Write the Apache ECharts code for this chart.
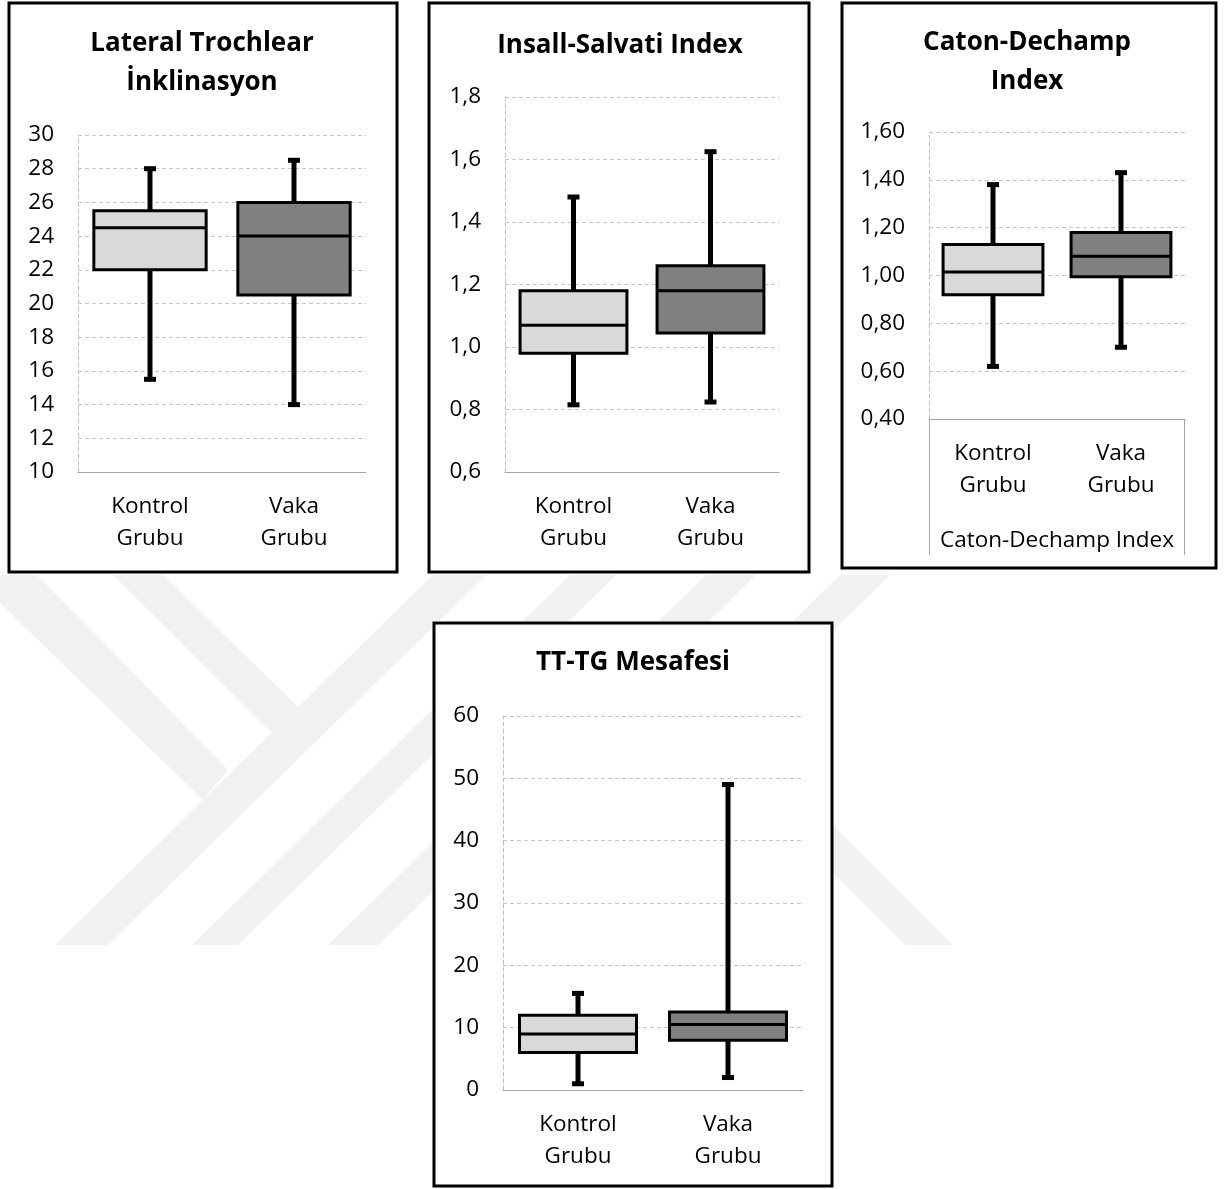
<!DOCTYPE html>
<html>
<head>
<meta charset="utf-8">
<script src="https://cdn.jsdelivr.net/npm/echarts@6/dist/echarts.min.js"></script>
<style>
  html, body { margin: 0; padding: 0; background: #fff; }
  #chart { width: 1231px; height: 1189px; }
</style>
</head>
<body>
<div id="chart"></div>
<script>
// ---------- DATA ----------
const categories = ['Kontrol\nGrubu', 'Vaka\nGrubu'];
// each box: [min, Q1, median, Q3, max]
const trochlearKontrol = [15.5, 22.0, 24.5, 25.5, 28.0];
const trochlearVaka    = [14.0, 20.5, 24.0, 26.0, 28.5];
const insallKontrol    = [0.815, 0.98, 1.07, 1.18, 1.48];
const insallVaka       = [0.824, 1.045, 1.18, 1.26, 1.625];
const catonKontrol     = [0.62, 0.92, 1.015, 1.13, 1.38];
const catonVaka        = [0.70, 0.995, 1.08, 1.18, 1.43];
const ttgKontrol       = [1.0, 6.0, 9.0, 12.0, 15.5];
const ttgVaka          = [2.0, 8.0, 10.5, 12.5, 49.0];
const titles = ['Lateral Trochlear\nİnklinasyon', 'Insall-Salvati Index', 'Caton-Dechamp\nIndex', 'TT-TG Mesafesi'];
const catonAxisName = 'Caton-Dechamp Index';
// axis ranges: [min, max, interval, decimals]
const axisTrochlear = [10, 30, 2, 0];
const axisInsall    = [0.6, 1.8, 0.2, 1];
const axisCaton     = [0.4, 1.6, 0.2, 2];
const axisTtg       = [0, 60, 10, 0];

// ---------- STYLE / LAYOUT ----------
const FONT = '"Open Sans", "Noto Sans", sans-serif';
const LABEL_SIZE = 22.5;
const FILLS = ['#d9d9d9', '#808080'];
const panels = [
  { rect: [9, 3, 388, 569],   grid: { left: 78,  top: 135, width: 288, height: 337 }, title: [202, 63], axis: axisTrochlear, a: trochlearKontrol, b: trochlearVaka },
  { rect: [429, 3, 380, 569], grid: { left: 505, top: 97,  width: 274, height: 375 }, title: [620, 46], axis: axisInsall, a: insallKontrol, b: insallVaka },
  { rect: [842, 3, 374, 565], grid: { left: 929, top: 132, width: 256, height: 287 }, title: [1027, 62], axis: axisCaton, a: catonKontrol, b: catonVaka },
  { rect: [434, 623, 398, 563], grid: { left: 503, top: 716, width: 300, height: 374 }, title: [633, 663], axis: axisTtg, a: ttgKontrol, b: ttgVaka }
];

// faint watermark stripes (decoration)
const WM = '#f1f1f1';
const watermark = [
  [[0,575],[37,575],[228,770],[203,800],[0,603]],
  [[113,575],[163,575],[298,707],[272,733]],
  [[55,945],[108,945],[486,575],[433,575]],
  [[192,945],[238,945],[616,575],[570,575]],
  [[328,945],[378,945],[756,575],[706,575]],
  [[462,945],[512,945],[890,575],[840,575]],
  [[720,760],[768,760],[953,945],[905,945]]
];

function renderBox(params, api) {
  const cat = api.value(0);
  const pMin = api.coord([cat, api.value(1)]);
  const pQ1  = api.coord([cat, api.value(2)]);
  const pMed = api.coord([cat, api.value(3)]);
  const pQ3  = api.coord([cat, api.value(4)]);
  const pMax = api.coord([cat, api.value(5)]);
  const band = api.size([1, 0])[0];
  const w = band * 0.78;
  const x = pMed[0];
  return {
    type: 'group',
    children: [
      { type: 'line', shape: { x1: x, y1: pQ3[1], x2: x, y2: pMax[1] }, style: { stroke: '#000', lineWidth: 5 } },
      { type: 'line', shape: { x1: x, y1: pQ1[1], x2: x, y2: pMin[1] }, style: { stroke: '#000', lineWidth: 5 } },
      { type: 'rect', shape: { x: x - 6, y: pMax[1] - 2.5, width: 12, height: 5 }, style: { fill: '#000' } },
      { type: 'rect', shape: { x: x - 6, y: pMin[1] - 2.5, width: 12, height: 5 }, style: { fill: '#000' } },
      { type: 'rect', shape: { x: x - w / 2, y: pQ3[1], width: w, height: pQ1[1] - pQ3[1] },
        style: { fill: FILLS[cat], stroke: '#000', lineWidth: 3 } },
      { type: 'line', shape: { x1: x - w / 2, y1: pMed[1], x2: x + w / 2, y2: pMed[1] }, style: { stroke: '#000', lineWidth: 3 } }
    ]
  };
}

const graphics = [];
watermark.forEach(pts => graphics.push({ type: 'polygon', z: -20, shape: { points: pts }, style: { fill: WM }, silent: true }));
panels.forEach((p, i) => {
  graphics.push({ type: 'rect', z: -10, shape: { x: p.rect[0], y: p.rect[1], width: p.rect[2], height: p.rect[3] },
    style: { fill: '#fff', stroke: '#000', lineWidth: 3 }, silent: true });
  graphics.push({ type: 'text', z: 10, x: p.title[0], y: p.title[1],
    style: { text: titles[i], font: 'bold 26px ' + FONT, fill: '#000', align: 'center', verticalAlign: 'middle', lineHeight: 39 } });
});
// table-like frame under Caton-Dechamp axis
const g3 = panels[2].grid;
graphics.push({ type: 'line', z: 5, shape: { x1: g3.left + 0.5, y1: g3.top + g3.height, x2: g3.left + 0.5, y2: 555 }, style: { stroke: '#a6a6a6', lineWidth: 1 } });
graphics.push({ type: 'line', z: 5, shape: { x1: g3.left + g3.width - 0.5, y1: g3.top + g3.height, x2: g3.left + g3.width - 0.5, y2: 555 }, style: { stroke: '#a6a6a6', lineWidth: 1 } });

const option = {
  animation: false,
  backgroundColor: '#fff',
  textStyle: { fontFamily: FONT },
  grid: panels.map(p => Object.assign({ containLabel: false }, p.grid)),
  xAxis: panels.map((p, i) => ({
    type: 'category', gridIndex: i, data: categories,
    axisLine: { show: true, lineStyle: { color: '#a6a6a6', width: 1 } },
    axisTick: { show: false },
    splitLine: { show: false },
    axisLabel: { color: '#000', fontSize: LABEL_SIZE, fontFamily: FONT, lineHeight: 32, margin: 19, interval: 0 },
    name: i === 2 ? catonAxisName : '',
    nameLocation: 'middle', nameGap: 110,
    nameTextStyle: { color: '#000', fontSize: LABEL_SIZE, fontFamily: FONT }
  })),
  yAxis: panels.map((p, i) => ({
    type: 'value', gridIndex: i, min: p.axis[0], max: p.axis[1], interval: p.axis[2],
    axisLine: { show: true, lineStyle: { color: '#bfbfbf', width: 1, type: [4, 3] } },
    axisTick: { show: false },
    splitLine: { show: true, lineStyle: { color: '#c8c8c8', width: 1, type: [4, 3] } },
    axisLabel: { color: '#000', fontSize: LABEL_SIZE, fontFamily: FONT, margin: 24,
      formatter: v => v.toFixed(p.axis[3]).replace('.', ',') }
  })),
  series: panels.map((p, i) => ({
    type: 'custom', xAxisIndex: i, yAxisIndex: i, z: 3,
    renderItem: renderBox,
    encode: { x: 0, y: [1, 2, 3, 4, 5] },
    data: [[0].concat(p.a), [1].concat(p.b)]
  })),
  graphic: graphics
};

const chart = echarts.init(document.getElementById('chart'), null, { renderer: 'canvas' });
chart.setOption(option);
</script>
</body>
</html>
